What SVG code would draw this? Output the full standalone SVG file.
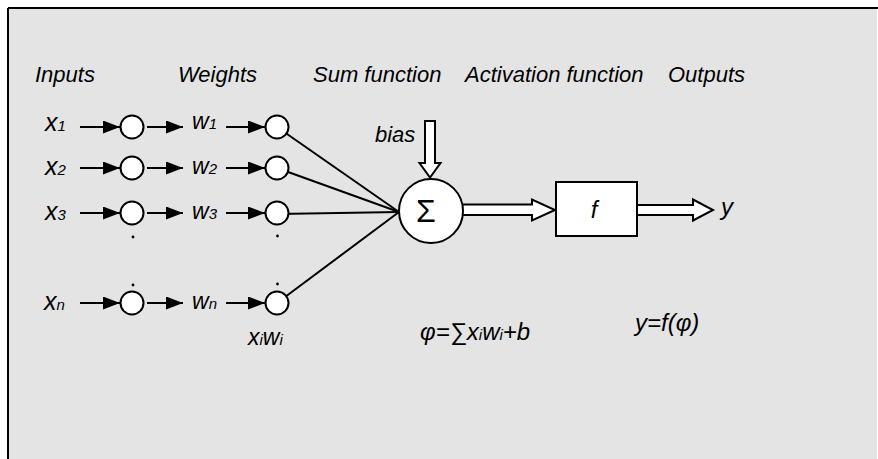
<svg xmlns="http://www.w3.org/2000/svg" width="878" height="459" viewBox="0 0 878 459">
<style>
.t{font-family:"Liberation Sans",Arial,sans-serif;font-style:italic;fill:#000}
.h{font-size:22px}
.v{font-size:25px}
.w{font-size:23px}
.f{font-size:24px}
.s{font-size:15px}
.c{fill:#fff;stroke:#000;stroke-width:2}
.ln{stroke:#000;stroke-width:2;fill:none}
.ho{fill:#fff;stroke:#000;stroke-width:2}
.dot{fill:#000}
</style>
<defs>
<marker id="ah" markerWidth="17" markerHeight="13" refX="17" refY="6.5" orient="auto" markerUnits="userSpaceOnUse"><path d="M0,0 L17,6.5 L0,13 z" fill="#000"/></marker>
</defs>
<rect x="0" y="0" width="878" height="459" fill="#fff"/>
<rect x="8" y="8" width="869" height="451" fill="#e4e4e4"/>
<path d="M8,8 H878 M8,8 V459" stroke="#000" stroke-width="2" fill="none"/>

<g id="headers" class="t h">
<text x="35" y="82">Inputs</text>
<text x="178" y="82">Weights</text>
<text x="313" y="82">Sum function</text>
<text x="465" y="82">Activation function</text>
<text x="668" y="82">Outputs</text>
</g>

<g id="connectors">
<line class="ln" x1="80" y1="127" x2="120" y2="127" marker-end="url(#ah)"/>
<line class="ln" x1="147" y1="127" x2="183" y2="127" marker-end="url(#ah)"/>
<line class="ln" x1="226" y1="127" x2="265" y2="127" marker-end="url(#ah)"/>
<line class="ln" x1="80" y1="168" x2="120" y2="168" marker-end="url(#ah)"/>
<line class="ln" x1="147" y1="168" x2="183" y2="168" marker-end="url(#ah)"/>
<line class="ln" x1="226" y1="168" x2="265" y2="168" marker-end="url(#ah)"/>
<line class="ln" x1="80" y1="213" x2="120" y2="213" marker-end="url(#ah)"/>
<line class="ln" x1="147" y1="213" x2="183" y2="213" marker-end="url(#ah)"/>
<line class="ln" x1="226" y1="213" x2="265" y2="213" marker-end="url(#ah)"/>
<line class="ln" x1="80" y1="303" x2="120" y2="303" marker-end="url(#ah)"/>
<line class="ln" x1="147" y1="303" x2="183" y2="303" marker-end="url(#ah)"/>
<line class="ln" x1="226" y1="303" x2="265" y2="303" marker-end="url(#ah)"/>
<line class="ln" x1="277" y1="127" x2="399" y2="212"/>
<line class="ln" x1="277" y1="168" x2="399" y2="212"/>
<line class="ln" x1="277" y1="214" x2="399" y2="212"/>
<line class="ln" x1="277" y1="303" x2="399" y2="212"/>
<polygon class="ho" points="425,121 435,121 435,163 440.5,163 430,177.5 419.5,163 425,163"/>
<polygon class="ho" points="455,204.5 532,204.5 532,199.5 555,210 532,220.5 532,215 455,215"/>
<polygon class="ho" points="630,205 693,205 693,199.5 713,210 693,220.5 693,215 630,215"/>
</g>

<g id="inputs" class="t">
<text class="v" x="45" y="131">x<tspan class="s">1</tspan></text>
<text class="v" x="45" y="175">x<tspan class="s">2</tspan></text>
<text class="v" x="45" y="220">x<tspan class="s">3</tspan></text>
<text class="v" x="44" y="310">x<tspan class="s">n</tspan></text>
</g>

<g id="weights" class="t">
<text class="w" x="192" y="129">w<tspan class="s">1</tspan></text>
<text class="w" x="192" y="174">w<tspan class="s">2</tspan></text>
<text class="w" x="192" y="219">w<tspan class="s">3</tspan></text>
<text class="w" x="192" y="309">w<tspan class="s">n</tspan></text>
</g>

<g id="input-nodes">
<circle class="c" cx="132" cy="127" r="11.5"/>
<circle class="c" cx="132" cy="168" r="11.5"/>
<circle class="c" cx="132" cy="213" r="11.5"/>
<circle class="c" cx="132" cy="303" r="11.5"/>
<circle class="dot" cx="133" cy="237" r="1.4"/>
<circle class="dot" cx="133" cy="285" r="1.4"/>
</g>

<g id="weight-nodes">
<circle class="c" cx="277" cy="127" r="11.5"/>
<circle class="c" cx="277" cy="168" r="11.5"/>
<circle class="c" cx="277" cy="213" r="11.5"/>
<circle class="c" cx="277" cy="303" r="11.5"/>
<circle class="dot" cx="277.5" cy="236" r="1.4"/>
<circle class="dot" cx="277.5" cy="284" r="1.4"/>
<text class="t w" x="248" y="345">x<tspan class="s">i</tspan>w<tspan class="s">i</tspan></text>
</g>

<g id="bias">
<text class="t h" x="375" y="142">bias</text>
</g>

<g id="sum">
<circle class="c" cx="431" cy="211" r="32"/>
<text x="426" y="222" font-family="'Liberation Sans',Arial,sans-serif" font-size="32" text-anchor="middle" fill="#000">Σ</text>
<text class="t f" x="420" y="340">φ=∑x<tspan class="s">i</tspan>w<tspan class="s">i</tspan>+b</text>
</g>

<g id="activation">
<rect class="c" x="556" y="182" width="81" height="54"/>
<text class="t f" x="594" y="218" text-anchor="middle">f</text>
<text class="t f" x="635" y="331">y=f(φ)</text>
</g>

<g id="output">
<text class="t f" x="721" y="215">y</text>
</g>
</svg>
